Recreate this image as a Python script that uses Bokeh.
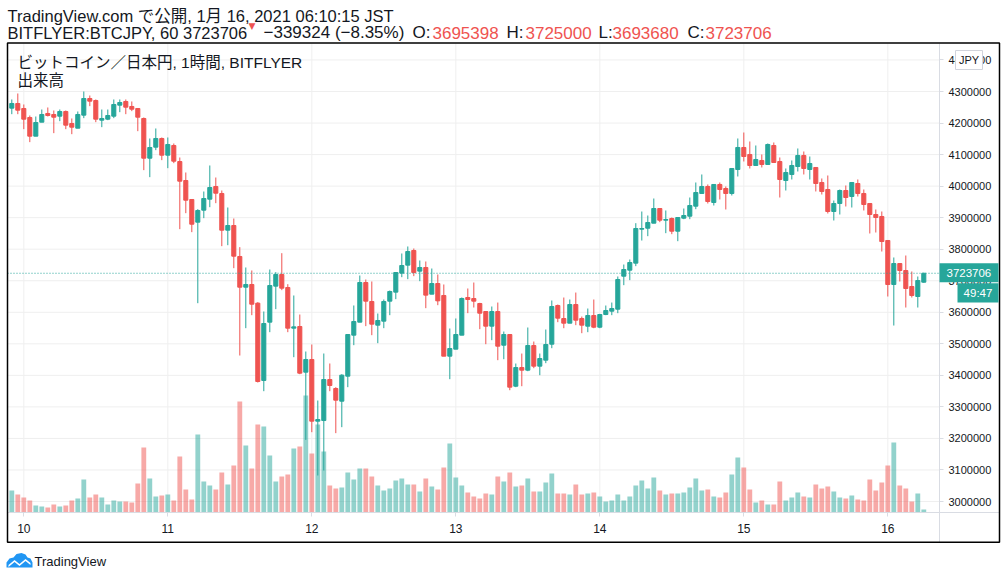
import pandas as pd
from bokeh.plotting import figure
from bokeh.models import (Range1d, FixedTicker, DatetimeTickFormatter, NumeralTickFormatter,
                          LinearAxis, DatetimeAxis, Label, BoxAnnotation, PolyAnnotation,
                          ColumnDataSource)
from bokeh.embed import file_html
from bokeh.resources import INLINE

# ---------------- data (BITFLYER:BTCJPY, 1 hour, JST) ----------------
start_time = "2021-01-09 22:00"

open_ = [4247200, 4262000, 4246100, 4217600, 4158400, 4202800, 4230300, 4227100, 4221800, 4236600,
         4198500, 4183700, 4225000, 4277800, 4271500, 4209100, 4212300, 4221800, 4256700, 4268300,
         4252500, 4246100, 4214400, 4088600, 4123500, 4151000, 4098100, 4128800, 4078000, 4017800,
         3957600, 3885700, 3923700, 3958600, 3998800, 3976600, 3860300, 3875100, 3776900, 3679600,
         3688100, 3628900, 3383700, 3568600, 3682800, 3719800, 3678600, 3549600, 3554900, 3410100,
         3450300, 3254700, 3256800, 3386800, 3358300, 3318100, 3397400, 3527400, 3568600, 3694400,
         3634200, 3559100, 3571800, 3635200, 3663800, 3724000, 3749400, 3795900, 3730400, 3742000,
         3657400, 3691200, 3653200, 3460800, 3483000, 3527400, 3646900, 3643600, 3627800, 3602400,
         3555900, 3602400, 3495600, 3529500, 3365600, 3424800, 3416400, 3494600, 3429100, 3448100,
         3498800, 3621400, 3580200, 3565400, 3624600, 3580200, 3555900, 3589700, 3552700, 3592900,
         3603500, 3609800, 3714400, 3733500, 3755700, 3863500, 3866600, 3882500, 3929000, 3892000,
         3897300, 3857100, 3898400, 3904700, 3936400, 3976600, 3998800, 3948100, 4005200, 3992500,
         3976600, 4052700, 4122500, 4100300, 4065400, 4081300, 4068600, 4128800, 4078100, 4017800,
         4036900, 4062200, 4097100, 4052700, 4059100, 4011500, 3989300, 3919500, 3944900, 3986100,
         3967100, 4008300, 3976600, 3944900, 3910000, 3903700, 3827600, 3688100, 3754600, 3732400,
         3681700, 3650000, 3695398]

high = [4274700, 4293700, 4258800, 4223900, 4220700, 4242900, 4249300, 4239800, 4242900, 4239800,
        4214400, 4236600, 4300000, 4287300, 4274700, 4242900, 4242900, 4274700, 4274700, 4274700,
        4268300, 4246100, 4217600, 4151000, 4182700, 4154200, 4154200, 4135100, 4090700, 4043200,
        3957600, 3926900, 3982900, 4065400, 4027300, 3986100, 3932200, 3897300, 3806500, 3742000,
        3732500, 3632100, 3602500, 3735600, 3727200, 3787400, 3689100, 3653200, 3592900, 3475600,
        3497800, 3320200, 3469300, 3437600, 3362500, 3403700, 3529500, 3621500, 3716600, 3703900,
        3697600, 3596100, 3640500, 3669000, 3726100, 3786400, 3808600, 3802200, 3764200, 3761000,
        3738800, 3719800, 3688100, 3548600, 3580300, 3646900, 3675400, 3694400, 3630000, 3602400,
        3618300, 3630900, 3539000, 3529500, 3437500, 3469200, 3551700, 3507300, 3469200, 3545300,
        3637300, 3624600, 3646800, 3640500, 3662600, 3586500, 3611900, 3640500, 3595000, 3621400,
        3630900, 3713400, 3751400, 3767300, 3882500, 3919500, 3906800, 3960700, 3929000, 3922700,
        3900500, 3900500, 3929000, 3963900, 4011500, 4036900, 4005200, 4005200, 4011500, 3998800,
        4055900, 4151000, 4170000, 4141500, 4128800, 4100300, 4135200, 4138300, 4090800, 4055900,
        4081300, 4119300, 4109800, 4093900, 4059100, 4024200, 4033700, 3954400, 3989300, 4002000,
        4011500, 4021000, 3989300, 3944900, 3925900, 3919500, 3827600, 3773700, 3754600, 3780000,
        3729300, 3713400, 3725000]

low = [4228100, 4228100, 4180600, 4139400, 4158400, 4202800, 4220700, 4167900, 4205900, 4180600,
       4164700, 4183700, 4215500, 4253500, 4202800, 4186900, 4209100, 4215500, 4234500, 4228100,
       4237700, 4174200, 4050600, 4028400, 4114000, 4082300, 4056900, 4072800, 3863500, 3914200,
       3854000, 3628800, 3898400, 3933200, 3945900, 3809600, 3812700, 3739800, 3462900, 3549600,
       3590800, 3377300, 3349800, 3536900, 3609900, 3670100, 3536900, 3457600, 3403700, 3195500,
       3219800, 3082500, 3098300, 3349800, 3216700, 3235700, 3362500, 3495700, 3568600, 3556000,
       3527400, 3502000, 3549600, 3590800, 3641600, 3711300, 3705000, 3714500, 3698600, 3613000,
       3657400, 3622500, 3460800, 3387900, 3483000, 3527400, 3597200, 3615100, 3546400, 3498800,
       3511500, 3448100, 3451200, 3352900, 3362500, 3365600, 3413200, 3422700, 3400500, 3438600,
       3486100, 3568600, 3549500, 3565400, 3559100, 3533700, 3536900, 3549500, 3549500, 3590800,
       3590800, 3597100, 3685900, 3701800, 3746200, 3827500, 3841300, 3882500, 3885700, 3850800,
       3847600, 3825400, 3895200, 3895200, 3926900, 3976600, 3944900, 3938600, 3957600, 3925900,
       3970300, 4030500, 4078100, 4055900, 4065400, 4059100, 4068600, 4074900, 3963900, 3986100,
       4021000, 4046400, 4036900, 4021000, 3983000, 3973400, 3913200, 3891000, 3910000, 3935400,
       3932200, 3967100, 3922700, 3849800, 3852900, 3792700, 3650000, 3558000, 3697600, 3615100,
       3646800, 3615100, 3693680]

close = [4262000, 4240800, 4212300, 4158400, 4201700, 4227100, 4223900, 4218600, 4236600, 4193300,
         4186900, 4227100, 4277800, 4269400, 4212300, 4214400, 4223900, 4258800, 4265100, 4250300,
         4244000, 4218600, 4088600, 4122400, 4151000, 4098100, 4132000, 4079100, 4015700, 3955400,
         3879300, 3922700, 3960700, 3995600, 3977600, 3860300, 3875100, 3777900, 3679600, 3688100,
         3625700, 3380500, 3564400, 3684900, 3719800, 3676400, 3549600, 3553800, 3406900, 3450300,
         3254700, 3260000, 3386800, 3367800, 3321300, 3400600, 3529500, 3570700, 3694400, 3635200,
         3562300, 3573900, 3634200, 3665900, 3726100, 3748300, 3792700, 3726100, 3742000, 3654300,
         3691200, 3636300, 3460800, 3485100, 3529500, 3643700, 3640500, 3635200, 3597100, 3555900,
         3602400, 3492500, 3529500, 3362500, 3424800, 3416400, 3494600, 3429100, 3453400, 3497800,
         3618300, 3581300, 3565400, 3624600, 3574900, 3559100, 3589700, 3552700, 3592900, 3605600,
         3611900, 3703900, 3735600, 3757800, 3865600, 3865600, 3884600, 3929000, 3892000, 3894100,
         3857100, 3900500, 3906800, 3938500, 3979700, 3998800, 3951200, 4005200, 3989300, 3976600,
         4055900, 4122500, 4093900, 4065400, 4084400, 4068600, 4132000, 4074900, 4021000, 4043200,
         4065400, 4097100, 4055900, 4071700, 4008300, 3983000, 3919500, 3944900, 3986100, 3963900,
         4011500, 3976600, 3941700, 3910000, 3900500, 3824400, 3688100, 3754600, 3732400, 3675400,
         3653200, 3700700, 3723706]

volume = [66, 54, 45, 36, 21, 18, 15, 24, 18, 21,
          36, 42, 99, 45, 54, 45, 24, 36, 33, 33,
          30, 87, 195, 102, 48, 51, 54, 36, 168, 69,
          39, 234, 93, 81, 69, 120, 84, 141, 333, 201,
          132, 264, 258, 171, 93, 108, 114, 192, 198, 351,
          177, 264, 183, 81, 72, 75, 120, 99, 132, 132,
          108, 81, 66, 72, 96, 102, 84, 84, 63, 102,
          78, 69, 135, 207, 105, 81, 60, 48, 42, 57,
          54, 108, 93, 120, 78, 81, 102, 63, 63, 90,
          117, 57, 57, 54, 84, 54, 57, 60, 48, 33,
          36, 54, 36, 48, 81, 96, 72, 105, 66, 54,
          57, 57, 60, 75, 102, 66, 69, 48, 45, 60,
          114, 165, 135, 69, 30, 36, 24, 24, 93, 36,
          45, 60, 48, 45, 84, 72, 78, 63, 45, 42,
          51, 39, 36, 99, 66, 90, 141, 210, 81, 72,
          33, 57, 9]

day_ticks = ["2021-01-10", "2021-01-11", "2021-01-12", "2021-01-13",
             "2021-01-14", "2021-01-15", "2021-01-16"]
price_ticks = [3000000, 3100000, 3200000, 3300000, 3400000, 3500000, 3600000, 3700000,
               3800000, 3900000, 4000000, 4100000, 4200000, 4300000, 4400000]

last_price = 3723706
countdown = "49:47"
currency = "JPY"

header_1 = "TradingView.com で公開, 1月 16, 2021 06:10:15 JST"
symbol_text = "BITFLYER:BTCJPY, 60 3723706"
change_text = "−339324 (−8.35%)"
ohlc_names = ["O:", "H:", "L:", "C:"]
ohlc_values = ["3695398", "3725000", "3693680", "3723706"]
chart_title = "ビットコイン／日本円, 1時間, BITFLYER"
volume_title = "出来高"
footer_text = "TradingView"

# ---------------- styling / layout ----------------
W, H = 1006, 579
UP = "#26a69a"
DOWN = "#ef5350"
TEXT = "#131722"
GRID = "#efefef"
SEP = "#d9dce3"
FONT = "Liberation Sans, Noto Sans CJK JP, sans-serif"
HOUR_MS = 3600000

t0 = pd.Timestamp(start_time)
T0_MS = t0.timestamp() * 1000
PX_PER_HOUR = 6.0          # candle spacing on screen
X_FIRST = 11.3             # screen x of first candle
Y_REF, P_REF = 91.0, 4300000.0
YEN_PER_PX = 3170.6        # price scale


def px_x(x):
    return T0_MS + (x - X_FIRST) / PX_PER_HOUR * HOUR_MS


def px_y(y):
    return P_REF - (y - Y_REF) * YEN_PER_PX


times = pd.date_range(start=start_time, periods=len(close), freq="h")
colors = [UP if c >= o else DOWN for o, c in zip(open_, close)]
src = ColumnDataSource(dict(time=times, open=open_, high=high, low=low,
                            close=close, volume=volume, color=colors))

p = figure(width=W, height=H, x_axis_type=None, y_axis_type=None,
           x_range=Range1d(px_x(0), px_x(W)), y_range=Range1d(px_y(H), px_y(0)),
           output_backend="svg", toolbar_location=None,
           min_border_left=0, min_border_right=0, min_border_top=0, min_border_bottom=0,
           background_fill_color="white", border_fill_color="white")
p.outline_line_color = None

vol_scale = max(volume) / 117.0
p.extra_y_ranges = {"vol": Range1d(-(H - 512) * vol_scale, 512 * vol_scale)}

pane_l, pane_r, pane_t, pane_b = px_x(7), px_x(939), px_y(43), px_y(512)
day_ms = [pd.Timestamp(d).timestamp() * 1000 for d in day_ticks]

# grid lines (chart pane only)
p.segment(x0=pane_l, x1=pane_r, y0=price_ticks, y1=price_ticks, line_color=GRID, line_width=1)
p.segment(x0=day_ms, x1=day_ms, y0=pane_b, y1=pane_t, line_color=GRID, line_width=1)

# volume
p.vbar(x="time", top="volume", bottom=0, width=0.8 * HOUR_MS, y_range_name="vol",
       fill_color="color", fill_alpha=0.5, line_color=None, source=src)
# wicks and bodies
p.segment(x0="time", y0="high", x1="time", y1="low", line_color="color",
          line_width=1, source=src)
p.vbar(x="time", top="open", bottom="close", width=0.68 * HOUR_MS, fill_color="color",
       line_color="color", line_width=1, source=src)

# current price line
p.segment(x0=pane_l, x1=pane_r, y0=last_price, y1=last_price, line_color=UP,
          line_dash="1 2", line_width=1)

# axes (drawn at fixed locations inside the canvas)
fmt = "%d"
xaxis = DatetimeAxis(fixed_location=pane_b, bounds=(px_x(7), px_x(999)),
                     ticker=FixedTicker(ticks=day_ms),
                     formatter=DatetimeTickFormatter(microseconds=fmt, milliseconds=fmt,
                                                     seconds=fmt, minsec=fmt, minutes=fmt,
                                                     hourmin=fmt, hours=fmt, days=fmt,
                                                     months=fmt, years=fmt))
yaxis = LinearAxis(fixed_location=pane_r, bounds=(px_y(542), pane_t),
                   ticker=FixedTicker(ticks=price_ticks),
                   formatter=NumeralTickFormatter(format="0"))
for ax in (xaxis, yaxis):
    ax.axis_line_color = SEP
    ax.major_tick_line_color = SEP
    ax.minor_tick_line_color = None
    ax.major_tick_out = 4
    ax.major_tick_in = 0
    ax.major_label_text_font = FONT
    ax.major_label_text_color = TEXT
yaxis.major_label_text_font_size = "11px"
yaxis.major_label_standoff = 5
xaxis.major_label_text_font_size = "12px"
xaxis.major_label_standoff = 7
p.add_layout(xaxis, "below")
p.add_layout(yaxis, "right")


def cbox(l, r, t, b, fill=None, line=None, lw=1.0):
    return BoxAnnotation(left=l, right=r, top=t, bottom=b,
                         left_units="canvas", right_units="canvas",
                         top_units="canvas", bottom_units="canvas",
                         fill_color=fill if fill else "white", fill_alpha=1.0 if fill else 0.0,
                         line_color=line, line_width=lw, line_alpha=1.0)


def clabel(x, y, text, size="17px", color=TEXT, align="left", baseline="middle",
           font=FONT):
    return Label(x=x, y=y, x_units="canvas", y_units="canvas", text=text,
                 text_font=font, text_font_size=size, text_color=color,
                 text_align=align, text_baseline=baseline)


# outer border and price-scale tags
p.add_layout(cbox(7, 999, 42.5, 541.7, line="black", lw=1.5))
p.add_layout(cbox(939, 998, 262.7, 281.7, fill=UP))
p.add_layout(cbox(957, 998, 282.7, 302, fill=UP))
p.add_layout(cbox(955, 982, 50, 69, fill="white", line="#d1d4dc"))

p.add_layout(clabel(946, 272.2, str(last_price), size="11.5px", color="white"))
p.add_layout(clabel(977.5, 292.5, countdown, size="11.5px", color="white", align="center"))
p.add_layout(clabel(968.5, 59.5, currency, size="11px", align="center"))

# header
p.add_layout(clabel(7, 15, header_1, size="16.5px"))
p.add_layout(clabel(7, 32, symbol_text, size="16.5px"))
p.add_layout(clabel(248, 25.5, "▼", size="9px", color=DOWN, font="DejaVu Sans"))
p.add_layout(clabel(263, 32, change_text))
name_x = [412, 506, 598, 687]
val_x = [432, 525, 612, 705]
for nm, vl, nx, vx in zip(ohlc_names, ohlc_values, name_x, val_x):
    p.add_layout(clabel(nx, 32, nm))
    p.add_layout(clabel(vx, 32, vl, color=DOWN))

# chart titles
p.add_layout(clabel(17, 61.5, chart_title, size="15.5px"))
p.add_layout(clabel(17, 80, volume_title, size="15.5px"))

# footer logo + text
p.add_layout(PolyAnnotation(xs=[6, 6, 9, 13, 16, 21, 25, 27, 30, 32, 32],
                            ys=[567, 562, 558, 557, 553.5, 552.5, 554, 557, 558, 562, 567],
                            xs_units="canvas", ys_units="canvas",
                            fill_color="#2196f3", fill_alpha=1.0, line_color=None))
p.add_layout(PolyAnnotation(xs=[8, 14, 19, 25, 30, 30, 25, 19, 14, 8],
                            ys=[564.5, 559.5, 563.5, 558.5, 562.5, 564.5, 560.5, 565.5, 561.5, 566.5],
                            xs_units="canvas", ys_units="canvas",
                            fill_color="white", fill_alpha=1.0, line_color=None))
p.add_layout(clabel(34, 561, footer_text, size="13px"))

open("out.html", "w").write(file_html(p, INLINE))
